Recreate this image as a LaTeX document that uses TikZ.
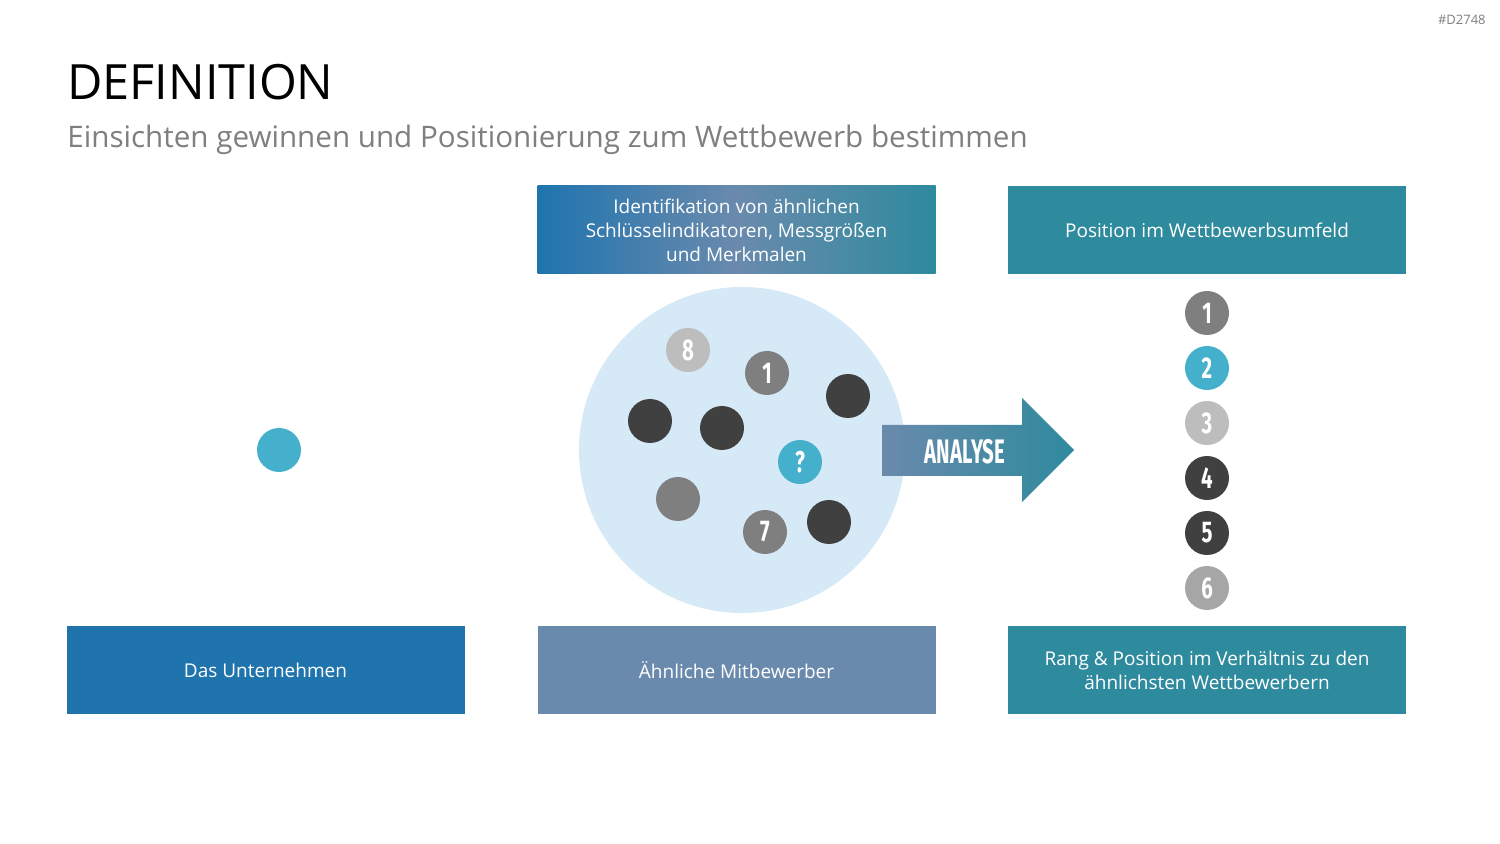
\documentclass[tikz,border=0pt]{standalone}
\usepackage{fontspec}
\setmainfont{Open Sans}
\newfontfamily\condfont[FakeStretch=0.6]{Fira Sans}
\newfontfamily\numfont[FakeStretch=0.68]{Fira Sans}
\definecolor{cblue}{HTML}{1F74AE}
\definecolor{cgreyblue}{HTML}{6A8AAD}
\definecolor{cteal}{HTML}{2E8A9D}
\definecolor{clight}{HTML}{D6E9F7}
\definecolor{caqua}{HTML}{45B0CB}
\definecolor{cdark}{HTML}{404040}
\definecolor{cmid}{HTML}{7F7F7F}
\definecolor{cpale}{HTML}{BDBDBD}
\definecolor{cpale2}{HTML}{A6A6A6}
\definecolor{csub}{HTML}{7F7F7F}
\tikzset{
  box/.style={minimum width=199pt, minimum height=44pt, inner sep=0pt, text=white, align=center, font=\fontsize{9.5}{12}\selectfont},
  dot/.style={circle, minimum size=22pt, inner sep=0pt, text=white, font=\numfont\bfseries\fontsize{15}{15}\selectfont},
}
\begin{document}
\begin{tikzpicture}[x=0.5pt,y=-0.5pt]
\useasboundingbox (0,0) rectangle (1500,844);
\fill[white] (0,0) rectangle (1500,844);
% header
\node[anchor=east, text=csub, font=\fontsize{6.5}{7}\selectfont, inner sep=0pt] (code) at (1486,20) {\#D2748};
\node[anchor=base west, inner sep=0pt, font=\fontsize{24.3}{28}\selectfont] (title) at (67,100) {DEFINITION};
\node[anchor=base west, inner sep=0pt, text=csub, font=\fontsize{14.8}{18}\selectfont] (subtitle) at (67,148) {Einsichten gewinnen und Positionierung zum Wettbewerb bestimmen};
% boxes
\node[box, shading=axis, left color=cblue, right color=cteal, middle color=cgreyblue] (topmid) at (736.5,230) {Identifikation von ähnlichen\\Schlüsselindikatoren, Messgrößen\\und Merkmalen};
\node[box, fill=cteal] (topright) at (1207,230) {Position im Wettbewerbsumfeld};
\node[box, fill=cblue] (botleft) at (265.5,670) {Das Unternehmen};
\node[box, fill=cgreyblue] (botmid) at (736.5,670) {Ähnliche Mitbewerber};
\node[box, fill=cteal] (botright) at (1207,670) {Rang \& Position im Verhältnis zu den\\ähnlichsten Wettbewerbern};
% company dot
\node[dot, fill=caqua] (company) at (279,450) {};
% big circle
\node[circle, fill=clight, minimum size=163pt, inner sep=0pt] (pool) at (742,450) {};
\node[dot, fill=cpale] (p8) at (688,350) {8};
\node[dot, fill=cmid] (p1) at (767,373) {1};
\node[dot, fill=cdark] (pa) at (848,396) {};
\node[dot, fill=cdark] (pb) at (650,421) {};
\node[dot, fill=cdark] (pc) at (722,428) {};
\node[dot, fill=caqua] (pq) at (800,462) {?};
\node[dot, fill=cmid] (pd) at (678,499) {};
\node[dot, fill=cmid] (p7) at (765,532) {7};
\node[dot, fill=cdark] (pe) at (829,522) {};
% arrow
\shade[left color=cgreyblue, right color=cteal] (882,425) -- (1022,425) -- (1022,398) -- (1074,450) -- (1022,502) -- (1022,476) -- (882,476) -- cycle;
\node[text=white, font=\condfont\bfseries\fontsize{17}{17}\selectfont, inner sep=0pt] (analyse) at (965,452) {ANALYSE};
% ranking
\node[dot, fill=cmid] (r1) at (1207,313) {1};
\node[dot, fill=caqua] (r2) at (1207,368) {2};
\node[dot, fill=cpale] (r3) at (1207,423) {3};
\node[dot, fill=cdark] (r4) at (1207,478) {4};
\node[dot, fill=cdark] (r5) at (1207,533) {5};
\node[dot, fill=cpale2] (r6) at (1207,588) {6};
\end{tikzpicture}
\end{document}
